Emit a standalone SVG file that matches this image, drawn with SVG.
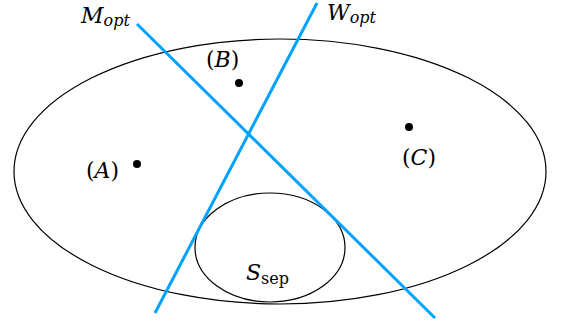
<svg xmlns="http://www.w3.org/2000/svg" width="564" height="329" viewBox="0 0 564 329">
<style>
.set{fill:none;stroke:#000;stroke-width:1.2}
.line{stroke:#00a2ff;stroke-width:3;fill:none}
.dot{fill:#000}
text{font-family:"DejaVu Serif","Liberation Serif",serif;fill:#000}
.lbl{font-size:22px}
.sm{font-size:16px}
.it{font-style:italic}
</style>
<rect width="564" height="329" fill="#fff"/>
<g id="outer"><ellipse class="set" cx="280" cy="171.5" rx="266" ry="132.5"/></g>
<g id="sep"><ellipse class="set" cx="270" cy="247.5" rx="75" ry="54.5"/>
<text class="lbl" x="246" y="280"><tspan class="it">S</tspan><tspan class="sm" dy="4">sep</tspan></text></g>
<g id="connectors">
<line class="line" x1="137" y1="24" x2="435" y2="318"/>
<line class="line" x1="317" y1="3" x2="155" y2="313"/>
</g>
<g id="Mopt"><text class="lbl" x="81" y="23"><tspan class="it">M</tspan><tspan class="sm it" dy="3">opt</tspan></text></g>
<g id="Wopt"><text class="lbl" x="327" y="20"><tspan class="it">W</tspan><tspan class="sm it" dy="3">opt</tspan></text></g>
<g id="A"><circle class="dot" cx="137" cy="164" r="4"/><text class="lbl" x="86" y="178">(<tspan class="it">A</tspan>)</text></g>
<g id="B"><circle class="dot" cx="239" cy="83" r="4"/><text class="lbl" x="206" y="67">(<tspan class="it">B</tspan>)</text></g>
<g id="C"><circle class="dot" cx="409" cy="127" r="4"/><text class="lbl" x="402" y="165">(<tspan class="it">C</tspan>)</text></g>
</svg>
